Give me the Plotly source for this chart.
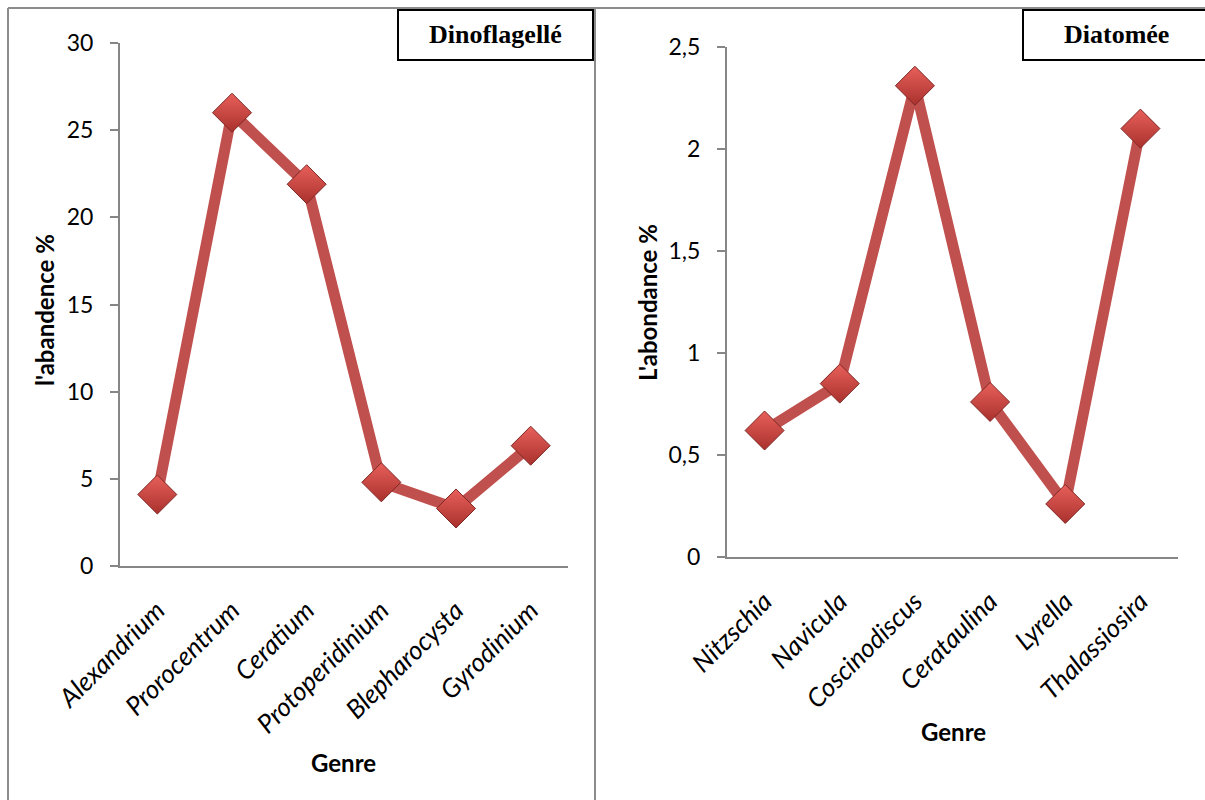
import plotly.graph_objects as go

# ---- data ----
dino_genres = ["Alexandrium", "Prorocentrum", "Ceratium", "Protoperidinium", "Blepharocysta", "Gyrodinium"]
dino_values = [4.1, 26.0, 21.9, 4.8, 3.3, 6.9]

diat_genres = ["Nitzschia", "Navicula", "Coscinodiscus", "Cerataulina", "Lyrella", "Thalassiosira"]
diat_values = [0.62, 0.85, 2.31, 0.76, 0.26, 2.10]

left_title = "Dinoflagellé"
right_title = "Diatomée"
left_ytitle = "l'abandence %"
right_ytitle = "L'abondance %"
xtitle = "Genre"

W, H = 1205, 800
LINE = "#C0504D"
GREY = "#868686"
FONT = "Lato"


def px(x):
    return x / W


def py(y):
    return 1 - y / H


marker = dict(symbol="diamond", size=30, color="#E8605B",
              gradient=dict(type="vertical", color="#A9312D"),
              line=dict(color="#7E2623", width=1))

fig = go.Figure()
fig.add_trace(go.Scatter(x=dino_genres, y=dino_values, mode="lines+markers",
                         line=dict(color=LINE, width=11), marker=marker,
                         xaxis="x", yaxis="y", showlegend=False))
fig.add_trace(go.Scatter(x=diat_genres, y=diat_values, mode="lines+markers",
                         line=dict(color=LINE, width=11), marker=marker,
                         xaxis="x2", yaxis="y2", showlegend=False))

xcommon = dict(type="category", range=[-0.5, 5.5], showline=True, linecolor=GREY,
               linewidth=2, ticks="", showgrid=False, zeroline=False, tickangle=-45,
               tickfont=dict(family=FONT, size=26, color="black", style="italic"),
               ticklabelstandoff=17, automargin=False)
ycommon = dict(showline=True, linecolor=GREY, linewidth=2, ticks="outside", ticklen=8,
               tickcolor=GREY, tickwidth=2, showgrid=False, zeroline=False,
               tickfont=dict(family=FONT, size=23, color="black"), ticklabelstandoff=12,
               automargin=False)

fig.update_layout(
    width=W, height=H, autosize=False,
    margin=dict(l=0, r=0, t=0, b=0, pad=0, autoexpand=False),
    paper_bgcolor="white", plot_bgcolor="white",
    separators=", ",
    xaxis=dict(domain=[px(120), px(568)], anchor="y", **xcommon),
    yaxis=dict(domain=[py(566), py(43)], anchor="x", range=[0, 30], dtick=5, **ycommon),
    xaxis2=dict(domain=[px(727), px(1178)], anchor="y2", **xcommon),
    yaxis2=dict(domain=[py(557), py(47)], anchor="x2", range=[0, 2.5], dtick=0.5,
                tickformat=".1~f", **ycommon),
)

FR = dict(color="#8c8c8c", width=2)
shapes = [
    # panel frame lines
    dict(type="line", xref="paper", yref="paper", x0=px(8), x1=px(8), y0=0, y1=py(8), line=FR),
    dict(type="line", xref="paper", yref="paper", x0=px(595), x1=px(595), y0=0, y1=py(8), line=FR),
    dict(type="line", xref="paper", yref="paper", x0=px(8), x1=1, y0=py(8), y1=py(8), line=FR),
    # title boxes
    dict(type="rect", xref="paper", yref="paper", x0=px(398), x1=px(593), y0=py(60), y1=py(10),
         line=dict(color="black", width=2), fillcolor="white"),
    dict(type="rect", xref="paper", yref="paper", x0=px(1023), x1=1.01, y0=py(60), y1=py(10),
         line=dict(color="black", width=2), fillcolor="white"),
]

ann_serif = dict(family="Liberation Serif", size=26, color="black")
ann_bold = dict(family=FONT, size=24, color="black")
annotations = [
    dict(text=f"<b>{left_title}</b>", x=px(495.5), y=py(35), xref="paper", yref="paper",
         showarrow=False, font=ann_serif, xanchor="center", yanchor="middle"),
    dict(text=f"<b>{right_title}</b>", x=px(1116), y=py(35), xref="paper", yref="paper",
         showarrow=False, font=ann_serif, xanchor="center", yanchor="middle"),
    dict(text=f"<b>{left_ytitle}</b>", x=px(45), y=py(310), xref="paper", yref="paper",
         showarrow=False, font=ann_bold, textangle=-90, xanchor="center", yanchor="middle"),
    dict(text=f"<b>{right_ytitle}</b>", x=px(648), y=py(303), xref="paper", yref="paper",
         showarrow=False, font=ann_bold, textangle=-90, xanchor="center", yanchor="middle"),
    dict(text=f"<b>{xtitle}</b>", x=px(343), y=py(762), xref="paper", yref="paper",
         showarrow=False, font=ann_bold, xanchor="center", yanchor="middle"),
    dict(text=f"<b>{xtitle}</b>", x=px(953), y=py(731), xref="paper", yref="paper",
         showarrow=False, font=ann_bold, xanchor="center", yanchor="middle"),
]

fig.update_layout(shapes=shapes, annotations=annotations)
fig.write_html("out.html")
